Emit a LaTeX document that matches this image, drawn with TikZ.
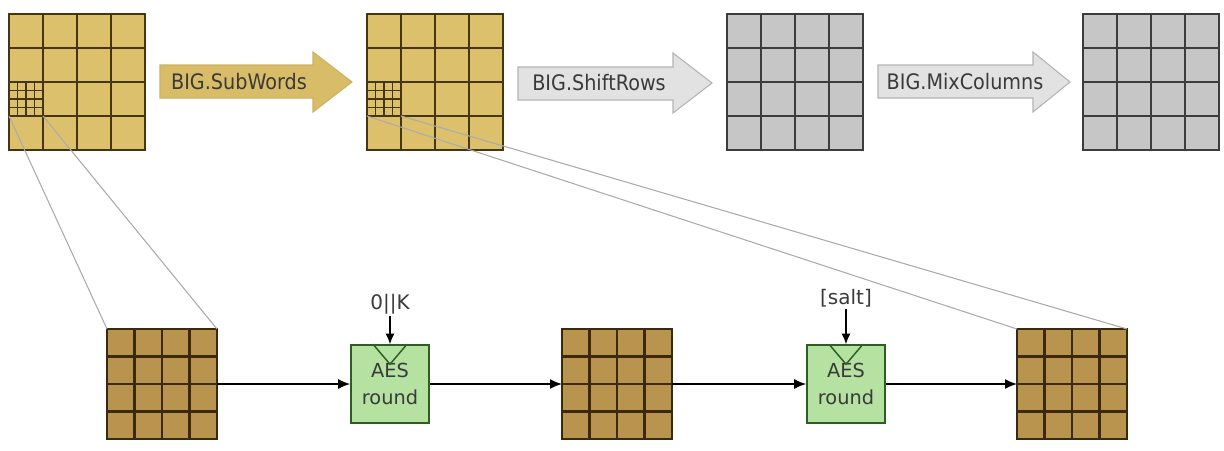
\documentclass[tikz,border=0pt]{standalone}
\usepackage{fontspec}
\setmainfont{DejaVu Sans}
\newfontfamily\condfont[FakeStretch=0.9]{DejaVu Sans}
\usetikzlibrary{arrows.meta,calc}
\definecolor{tanfill}{HTML}{DCC06C}
\definecolor{tanline}{HTML}{45360F}
\definecolor{brownfill}{HTML}{B8944F}
\definecolor{brownline}{HTML}{3A290A}
\definecolor{grayfill}{HTML}{C6C6C6}
\definecolor{grayline}{HTML}{3C3C3C}
\definecolor{aesfill}{HTML}{B5E2A0}
\definecolor{aesline}{HTML}{2F5E25}
\definecolor{arrtan}{HTML}{D8BC68}
\definecolor{arrtanb}{HTML}{CDB264}
\definecolor{arrgray}{HTML}{E2E2E2}
\definecolor{arrgrayb}{HTML}{B4B4B4}
\definecolor{txt}{HTML}{3A3A3A}
\definecolor{zoomline}{HTML}{ABABAB}
\newcommand{\cellgrid}[7]{%
  \node[draw=#6, fill=#5, line width=#7, minimum size=#4*0.75pt, inner sep=0pt, outer sep=0pt, anchor=north west] (#1) at (#2,#3) {};
  \foreach \k in {1,2,3}{
    \draw[#6, line width=#7] ($(#1.north west)!\k/4!(#1.north east)$) -- ($(#1.south west)!\k/4!(#1.south east)$);
    \draw[#6, line width=#7] ($(#1.north west)!\k/4!(#1.south west)$) -- ($(#1.north east)!\k/4!(#1.south east)$);
  }%
}
\tikzset{
  blockarrow/.style={line width=0.8pt, line join=miter},
  arrlabel/.style={text=txt, font=\condfont\fontsize{16}{19}\selectfont, inner sep=0pt},
  aesbox/.style={draw=aesline, fill=aesfill, line width=1.2pt, minimum size=58.5pt, inner sep=0pt, align=center, text=txt, font=\fontsize{14.5}{20}\selectfont},
  keylabel/.style={text=txt, font=\fontsize{15}{18}\selectfont, inner sep=1pt},
  conn/.style={line width=1.2pt, -{Latex[length=9pt,width=7.5pt]}},
  zoomconn/.style={zoomline, line width=0.8pt},
}
\begin{document}
\begin{tikzpicture}[x=0.75pt, y=-0.75pt]
\useasboundingbox (0,0) rectangle (1224,450);
% top grids
\cellgrid{g1}{9}{14}{136}{tanfill}{tanline}{1.6pt}
\cellgrid{s1}{9}{82}{34}{tanfill}{tanline}{1.2pt}
\cellgrid{g2}{367}{14}{136}{tanfill}{tanline}{1.6pt}
\cellgrid{s2}{367}{82}{34}{tanfill}{tanline}{1.2pt}
\cellgrid{g3}{727}{14}{136}{grayfill}{grayline}{1.6pt}
\cellgrid{g4}{1083}{14}{136}{grayfill}{grayline}{1.6pt}
% block arrows
\draw[blockarrow, fill=arrtan, draw=arrtanb] (160,65) -- (313,65) -- (313,52) -- (352,82) -- (313,112) -- (313,98) -- (160,98) -- cycle;
\node[arrlabel] (t1) at (239,82) {BIG.SubWords};
\draw[blockarrow, fill=arrgray, draw=arrgrayb] (518,67) -- (673,67) -- (673,53) -- (712,83) -- (673,113) -- (673,100) -- (518,100) -- cycle;
\node[arrlabel] (t2) at (599,83) {BIG.ShiftRows};
\draw[blockarrow, fill=arrgray, draw=arrgrayb] (878,65) -- (1033,65) -- (1033,52) -- (1070,82) -- (1033,112) -- (1033,98) -- (878,98) -- cycle;
\node[arrlabel] (t3) at (965,82) {BIG.MixColumns};
% bottom grids
\cellgrid{gA}{107}{329}{110}{brownfill}{brownline}{1.6pt}
\cellgrid{gB}{562}{329}{110}{brownfill}{brownline}{1.6pt}
\cellgrid{gC}{1017}{329}{110}{brownfill}{brownline}{1.6pt}
% AES boxes
\node[aesbox] (aes1) at (390,384) {AES\\round};
\node[aesbox] (aes2) at (846,384) {AES\\round};
\foreach \a in {aes1,aes2}{
  \draw[aesline, line width=1.1pt, line join=miter] ($(\a.north)+(-17,0)$) -- ($(\a.north)+(0,20)$) -- ($(\a.north)+(17,0)$);
}
\node[keylabel] (k1) at (390,304) {0||K};
\node[keylabel] (k2) at (846,298) {[salt]};
\draw[conn, -{Latex[length=8pt,width=7pt]}] (k1.south) -- (aes1.north);
\draw[conn, -{Latex[length=8pt,width=7pt]}] (k2.south) -- (aes2.north);
% flow
\draw[conn] (gA.east) -- (aes1.west);
\draw[conn] (aes1.east) -- (gB.west);
\draw[conn] (gB.east) -- (aes2.west);
\draw[conn] (aes2.east) -- (gC.west);
% zoom lines
\draw[zoomconn] (s1.south west) -- (gA.north west);
\draw[zoomconn] (s1.south east) -- (gA.north east);
\draw[zoomconn] (s2.south west) -- (gC.north west);
\draw[zoomconn] (s2.south east) -- (gC.north east);
\end{tikzpicture}
\end{document}
